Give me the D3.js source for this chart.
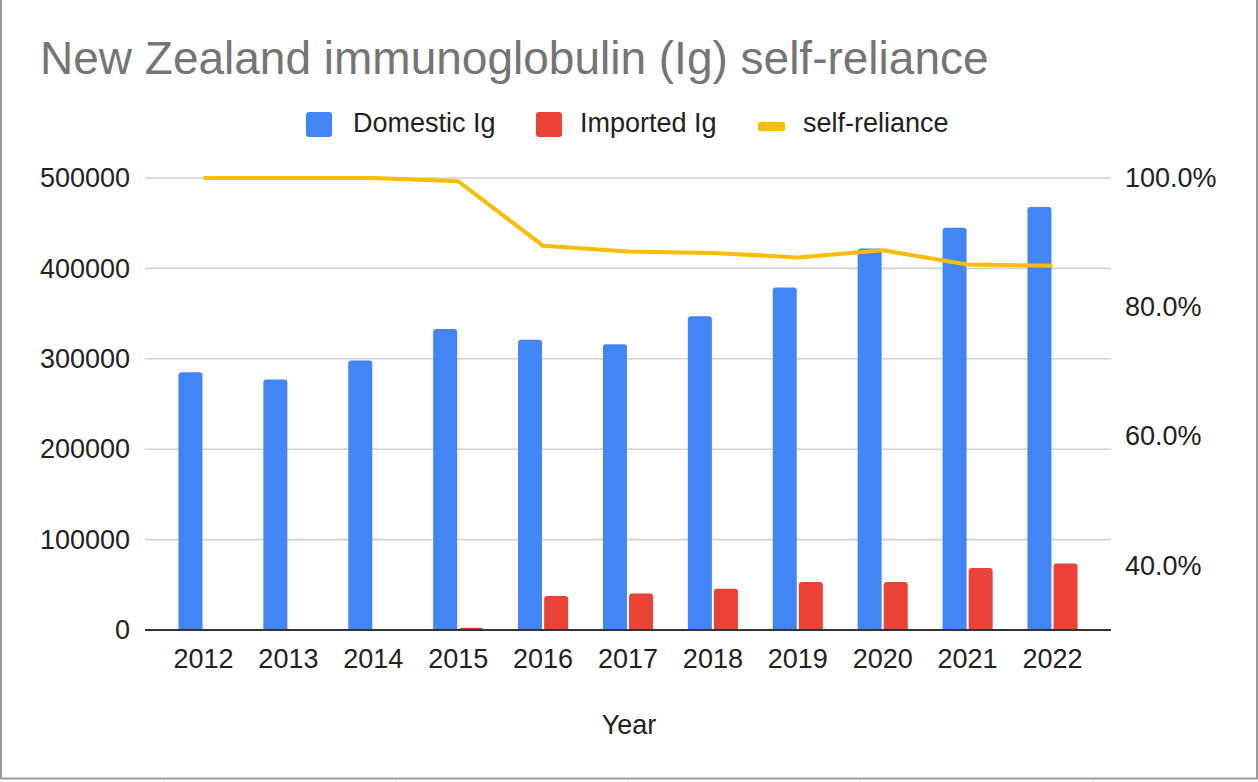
<!DOCTYPE html>
<html>
<head>
<meta charset="utf-8">
<script src="https://cdn.jsdelivr.net/npm/d3@7"></script>
<style>
  html, body { margin: 0; padding: 0; background: #fff; }
  svg { display: block; }
  text { font-family: "Liberation Sans", Arial, sans-serif; }
</style>
</head>
<body>
<svg id="chart" width="1258" height="782"></svg>
<script>
// ---- data ----
const years = ["2012","2013","2014","2015","2016","2017","2018","2019","2020","2021","2022"];
const domestic = [285000, 277000, 298000, 333000, 321000, 316000, 347000, 379000, 422000, 445000, 468000];
const imported = [0, 0, 0, 2500, 37500, 40500, 45500, 53000, 53000, 68500, 73500];
const selfReliance = [1.0, 1.0, 1.0, 0.995, 0.895, 0.886, 0.884, 0.877, 0.888, 0.866, 0.864];
const leftTicks = [0, 100000, 200000, 300000, 400000, 500000];
const rightTicks = [0.4, 0.6, 0.8, 1.0];
const seriesNames = ["Domestic Ig", "Imported Ig", "self-reliance"];
const colors = {"Domestic Ig": "#4285F4", "Imported Ig": "#EA4335", "self-reliance": "#FBBC04"};

const svg = d3.select("#chart");
const W = 1258, H = 782;
const plot = {left: 145, right: 1111, top: 178, bottom: 630};

// frame
svg.append("rect").attr("x", 1).attr("y", -2).attr("width", W - 2).attr("height", 780.5)
  .attr("fill", "#fff").attr("stroke", "#9a9a9a").attr("stroke-width", 2);
[164, 396, 628, 860, 1093].forEach(px => {
  svg.append("line").attr("x1", px).attr("x2", px).attr("y1", 780).attr("y2", 782)
    .attr("stroke", "#cfcfcf").attr("stroke-width", 1);
});

// scales
const x = d3.scaleBand().domain(years).range([plot.left, plot.right])
  .paddingInner(0.41).paddingOuter(0.394);
const xs = d3.scaleBand().domain(["Domestic Ig", "Imported Ig"]).range([0, x.bandwidth()]).paddingInner(0.08);
const yL = d3.scaleLinear().domain([0, 500000]).range([plot.bottom, plot.top]);
const yR = d3.scaleLinear().domain([0.3, 1.0]).range([plot.bottom, plot.top]);

// gridlines
svg.append("g").selectAll("line").data(leftTicks.filter(d => d > 0)).join("line")
  .attr("x1", plot.left).attr("x2", plot.right)
  .attr("y1", d => yL(d)).attr("y2", d => yL(d))
  .attr("stroke", "#d2d2d2").attr("stroke-width", 1.6);

// left axis
const gL = svg.append("g").attr("transform", `translate(${plot.left},0)`)
  .call(d3.axisLeft(yL).tickValues(leftTicks).tickSize(0).tickPadding(15).tickFormat(d3.format("d")));
gL.select(".domain").remove();
gL.selectAll("text").attr("font-size", 27).attr("fill", "#222").attr("font-family", "Liberation Sans, Arial, sans-serif");

// right axis
const gR = svg.append("g").attr("transform", `translate(${plot.right},0)`)
  .call(d3.axisRight(yR).tickValues(rightTicks).tickSize(0).tickPadding(14).tickFormat(d3.format(".1%")));
gR.select(".domain").remove();
gR.selectAll("text").attr("font-size", 27).attr("fill", "#222").attr("font-family", "Liberation Sans, Arial, sans-serif");

// bars
function topRounded(x0, y0, w, h, r) {
  if (h <= 0) return "";
  r = Math.min(r, h, w / 2);
  return `M${x0},${y0 + h}V${y0 + r}Q${x0},${y0} ${x0 + r},${y0}H${x0 + w - r}Q${x0 + w},${y0} ${x0 + w},${y0 + r}V${y0 + h}Z`;
}
const barData = [];
years.forEach((yr, i) => {
  barData.push({year: yr, s: "Domestic Ig", v: domestic[i]});
  barData.push({year: yr, s: "Imported Ig", v: imported[i]});
});
svg.append("g").selectAll("path").data(barData.filter(d => d.v > 0)).join("path")
  .attr("d", d => topRounded(x(d.year) + xs(d.s), yL(d.v), xs.bandwidth(), yL(0) - yL(d.v), 3))
  .attr("fill", d => colors[d.s]);

// baseline axis
const gX = svg.append("g").attr("transform", `translate(0,${plot.bottom})`)
  .call(d3.axisBottom(x).tickSize(0).tickPadding(19));
gX.select(".domain").attr("stroke", "#333").attr("stroke-width", 2)
  .attr("d", `M${plot.left},0H${plot.right}`);
gX.selectAll("text").attr("font-size", 27).attr("fill", "#222").attr("font-family", "Liberation Sans, Arial, sans-serif");

// line
const line = d3.line()
  .x((d, i) => x(years[i]) + x.bandwidth() / 2)
  .y(d => yR(d));
svg.append("path").datum(selfReliance).attr("d", line)
  .attr("fill", "none").attr("stroke", colors["self-reliance"]).attr("stroke-width", 4)
  .attr("stroke-linejoin", "round");

// title
svg.append("text").attr("x", 40).attr("y", 74).text("New Zealand immunoglobulin (Ig) self-reliance")
  .attr("font-size", 46).attr("fill", "#757575");

// x-axis title
svg.append("text").attr("x", 629).attr("y", 734).attr("text-anchor", "middle")
  .attr("font-size", 27).attr("fill", "#222").text("Year");

// legend
const legend = svg.append("g");
const legendItems = [
  {name: seriesNames[0], mx: 306, tx: 353, type: "box"},
  {name: seriesNames[1], mx: 536, tx: 580, type: "box"},
  {name: seriesNames[2], mx: 758, tx: 803, type: "line"}
];
legendItems.forEach(it => {
  if (it.type === "box") {
    legend.append("rect").attr("x", it.mx).attr("y", 112).attr("width", 26).attr("height", 25)
      .attr("rx", 3).attr("fill", colors[it.name]);
  } else {
    legend.append("rect").attr("x", it.mx).attr("y", 122).attr("width", 27).attr("height", 9)
      .attr("rx", 2).attr("fill", colors[it.name]);
  }
  legend.append("text").attr("x", it.tx).attr("y", 132).attr("font-size", 27).attr("fill", "#222").text(it.name);
});
</script>
</body>
</html>
